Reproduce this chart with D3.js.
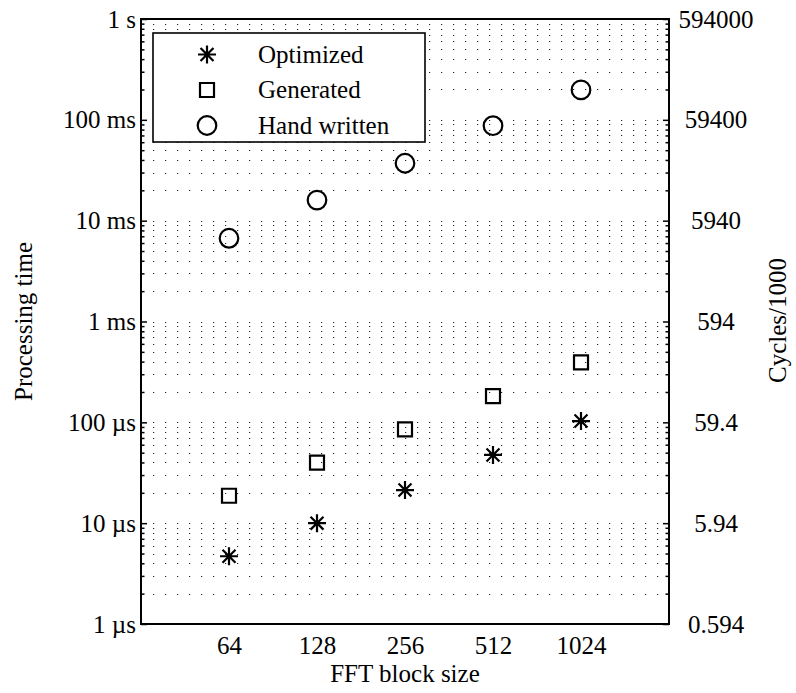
<!DOCTYPE html>
<html>
<head>
<meta charset="utf-8">
<script src="https://cdn.jsdelivr.net/npm/d3@7"></script>
<style>
  html, body { margin: 0; padding: 0; background: #fff; }
  svg { display: block; }
  text { font-family: "Liberation Serif", "DejaVu Serif", serif; fill: #000; }
</style>
</head>
<body>
<svg id="chart" width="796" height="693"></svg>
<script>
// FFT processing time per implementation (seconds), log-log plot
const blockSizes = [64, 128, 256, 512, 1024];
const optimized = [4.7e-6, 10.0e-6, 21.3e-6, 47.5e-6, 103e-6];
const generated = [18.7e-6, 39.8e-6, 85.3e-6, 182e-6, 394e-6];
const handWritten = [6.69e-3, 16.0e-3, 37.1e-3, 87.5e-3, 198e-3];
const seriesNames = ["Optimized", "Generated", "Hand written"];

const decadeTicks = [1e-6, 1e-5, 1e-4, 1e-3, 1e-2, 1e-1, 1];
const leftTickLabels = ["1 µs", "10 µs", "100 µs", "1 ms", "10 ms", "100 ms", "1 s"];
const rightTickLabels = ["0.594", "5.94", "59.4", "594", "5940", "59400", "594000"];
const xLabel = "FFT block size";
const yLabelLeft = "Processing time";
const yLabelRight = "Cycles/1000";

const FONT = 25;
const plot = { left: 141, right: 669, top: 19, bottom: 624 };

const svg = d3.select("#chart");

const x = d3.scaleLog().base(2).domain([32, 2048]).range([plot.left, plot.right]);
const y = d3.scaleLog().domain([1e-6, 1]).range([plot.bottom, plot.top]);

// minor values 2..9 within each decade
const minorTicks = [];
decadeTicks.slice(0, -1).forEach(d => {
  for (let m = 2; m <= 9; m++) minorTicks.push(m * d);
});
const gridValues = minorTicks.concat(decadeTicks.slice(1));

// dotted horizontal grid
svg.append("g").attr("class", "grid")
  .selectAll("line").data(gridValues).join("line")
  .attr("x1", plot.left).attr("x2", plot.right)
  .attr("y1", d => Math.round(y(d)) + 0.5)
  .attr("y2", d => Math.round(y(d)) + 0.5)
  .attr("stroke", "#222").attr("stroke-width", 1.2)
  .attr("stroke-dasharray", "1.2,10.8");

// left axis: major ticks with labels, minor ticks inward
svg.append("g").attr("transform", `translate(${plot.left},0)`)
  .call(d3.axisLeft(y).tickValues(decadeTicks)
    .tickFormat((d, i) => leftTickLabels[i]).tickSize(-6).tickPadding(5));
svg.append("g").attr("transform", `translate(${plot.left},0)`)
  .call(d3.axisLeft(y).tickValues(minorTicks).tickFormat("").tickSize(-3.5));

// right axis in cycles
const rightMajor = svg.append("g").attr("transform", `translate(${plot.right},0)`)
  .call(d3.axisRight(y).tickValues(decadeTicks)
    .tickFormat((d, i) => rightTickLabels[i]).tickSize(-6).tickPadding(5));
svg.append("g").attr("transform", `translate(${plot.right},0)`)
  .call(d3.axisRight(y).tickValues(minorTicks).tickFormat("").tickSize(-3.5));
rightMajor.selectAll("text").attr("x", 47).attr("text-anchor", "middle");

// bottom axis labels only
const bottom = svg.append("g").attr("transform", `translate(0,${plot.bottom})`)
  .call(d3.axisBottom(x).tickValues(blockSizes).tickFormat(d3.format("d")).tickSize(0));
bottom.selectAll("text").attr("y", 30).attr("dy", null);

svg.selectAll(".domain").remove();
svg.selectAll(".tick line").attr("stroke", "#000").attr("stroke-width", 1.5);
svg.selectAll(".tick text").attr("font-family", null).attr("font-size", FONT).attr("fill", "#000");

// plot frame
svg.append("rect")
  .attr("x", plot.left).attr("y", plot.top)
  .attr("width", plot.right - plot.left).attr("height", plot.bottom - plot.top)
  .attr("fill", "none").attr("stroke", "#000").attr("stroke-width", 2);

// axis titles
svg.append("text").attr("x", (plot.left + plot.right) / 2).attr("y", 682)
  .attr("text-anchor", "middle").attr("font-size", FONT).text(xLabel);
svg.append("text").attr("transform", `translate(32,${(plot.top + plot.bottom) / 2}) rotate(-90)`)
  .attr("text-anchor", "middle").attr("font-size", FONT).text(yLabelLeft);
svg.append("text").attr("transform", `translate(786,${(plot.top + plot.bottom) / 2 - 1}) rotate(-90)`)
  .attr("text-anchor", "middle").attr("font-size", FONT).text(yLabelRight);

// marker shapes: asterisk made of + and x strokes
const asterisk = {
  draw(ctx, size) {
    const r = Math.sqrt(size) / 2;
    const q = r * 0.72;
    ctx.moveTo(0, -r); ctx.lineTo(0, r);
    ctx.moveTo(-r, 0); ctx.lineTo(r, 0);
    ctx.moveTo(-q, -q); ctx.lineTo(q, q);
    ctx.moveTo(-q, q); ctx.lineTo(q, -q);
  }
};
const markers = [
  { type: asterisk, size: 18 * 18, width: 2.2 },
  { type: d3.symbolSquare, size: 14 * 14, width: 2.2 },
  { type: d3.symbolCircle, size: Math.PI * 9.3 * 9.3, width: 2.2 }
];
const allSeries = [optimized, generated, handWritten];

allSeries.forEach((vals, s) => {
  const m = markers[s];
  svg.append("g").selectAll("path").data(vals).join("path")
    .attr("transform", (v, i) => `translate(${x(blockSizes[i])},${y(v)})`)
    .attr("d", d3.symbol().type(m.type).size(m.size))
    .attr("fill", "none").attr("stroke", "#000").attr("stroke-width", m.width);
});

// legend
const legend = svg.append("g");
legend.append("rect").attr("x", 153).attr("y", 33).attr("width", 272).attr("height", 109)
  .attr("fill", "#fff").attr("stroke", "#000").attr("stroke-width", 1.6);
const legendY = d3.scalePoint().domain(seriesNames).range([54.5, 125.5]);
seriesNames.forEach((name, s) => {
  const m = markers[s];
  legend.append("path")
    .attr("transform", `translate(207,${legendY(name)})`)
    .attr("d", d3.symbol().type(m.type).size(m.size))
    .attr("fill", "none").attr("stroke", "#000").attr("stroke-width", m.width);
  legend.append("text").attr("x", 258).attr("y", legendY(name)).attr("dy", "0.32em")
    .attr("font-size", FONT).text(name);
});
</script>
</body>
</html>
